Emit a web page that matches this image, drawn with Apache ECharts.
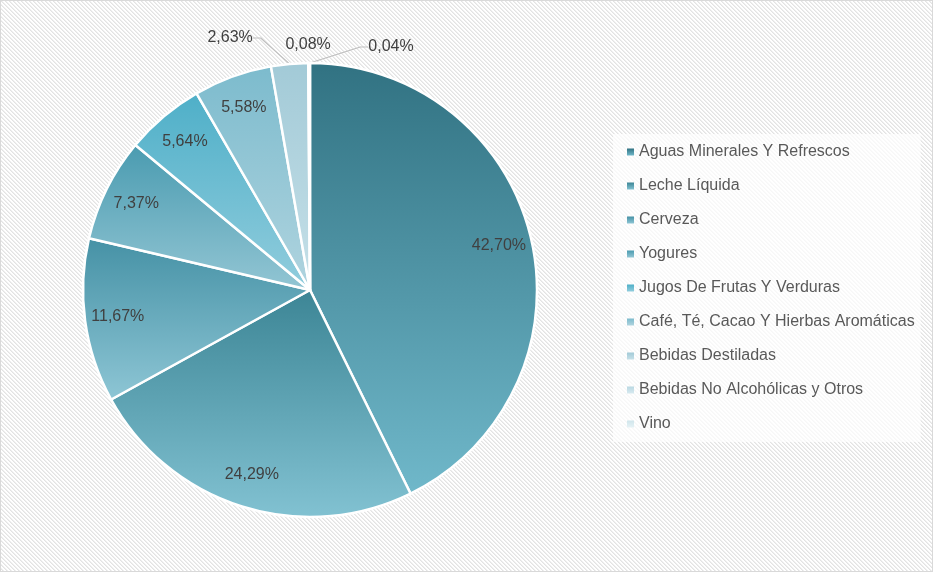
<!DOCTYPE html>
<html>
<head>
<meta charset="utf-8">
<script src="https://cdn.jsdelivr.net/npm/echarts@6/dist/echarts.min.js"></script>
<style>
html,body{margin:0;padding:0;background:#fff;}
#wrap{position:absolute;left:0;top:0;width:931px;height:570px;border:1px solid #d9d9d9;}
#chart{width:931px;height:570px;}
</style>
</head>
<body>
<div id="wrap"><div id="chart"></div></div>
<script>
const categories = ["Aguas Minerales Y Refrescos","Leche Líquida","Cerveza","Yogures","Jugos De Frutas Y Verduras","Café, Té, Cacao Y Hierbas Aromáticas","Bebidas Destiladas","Bebidas No Alcohólicas y Otros","Vino"];
const values = [42.70, 24.29, 11.67, 7.37, 5.64, 5.58, 2.63, 0.08, 0.04];
const topColors = ["#317282","#3c8595","#4591a5","#4a9bb0","#4eafc8","#7cbbcd","#a2cad7","#b9d8e2","#cfe5eb"];
const bottomColors = ["#70b8ca","#82c2d2","#8ec6d5","#93c6d4","#92cddd","#b0d4df","#c6e0e8","#d8eaf0","#e6f2f5"];
// label offsets (style) for the small outside labels: [dx, dy] from default placement
const labelShift = {6:[-22,-6], 7:[35,2], 8:[117,4]};

// hatched background tile
(function(){
  const c = document.createElement('canvas'); c.width = 4; c.height = 4;
  const g = c.getContext('2d');
  g.fillStyle = '#ffffff'; g.fillRect(0,0,4,4);
  for (let y=0;y<4;y++) for (let x=0;x<4;x++){
    const k = ((x - y) % 4 + 4) % 4;
    if (k===0){ g.fillStyle='#e3e3e3'; g.fillRect(x,y,1,1); }
    else if (k===1){ g.fillStyle='#efefef'; g.fillRect(x,y,1,1); }
  }
  document.getElementById('wrap').style.background = 'url(' + c.toDataURL() + ') repeat';
})();

function grad(i){
  return new echarts.graphic.LinearGradient(0,0,0,1,[{offset:0,color:topColors[i]},{offset:1,color:bottomColors[i]}]);
}
const fmt = p => p.value.toFixed(2).replace('.', ',') + '%';
const font = 'Liberation Sans';

const sliceData = categories.map((c,i)=>({
  name:c, value:values[i],
  itemStyle:{color:grad(i)},
  label:{show:i>=6},
  labelLine:{show:i===6 || i===8}
}));
const labelData = categories.map((c,i)=>({
  name:c, value:values[i],
  label:{show:i<6}
}));

const chart = echarts.init(document.getElementById('chart'), null, {renderer:'canvas'});
chart.setOption({
  backgroundColor:'transparent',
  animation:false,
  legend:{
    orient:'vertical', left:612, top:133,
    padding:[8,6,8,14],
    backgroundColor:'rgba(255,255,255,0.7)',
    itemWidth:7, itemHeight:7, itemGap:14,
    icon:'rect',
    itemStyle:{borderWidth:0},
    data:categories,
    textStyle:{fontFamily:font, fontSize:16, color:'#595959', lineHeight:20}
  },
  series:[
    {
      type:'pie', center:[309,289], radius:227, startAngle:90, clockwise:true,
      avoidLabelOverlap:false,
      itemStyle:{borderColor:'#fff', borderWidth:2.5},
      label:{position:'outside', formatter:fmt, fontFamily:font, fontSize:16, color:'#404040'},
      labelLine:{length:20, length2:8, lineStyle:{color:'#bfbfbf', width:1.2}},
      labelLayout:function(p){
        const s = labelShift[p.dataIndex];
        if (!s) return {};
        return {
          x: p.labelRect.x + p.labelRect.width/2 + s[0],
          y: p.labelRect.y + p.labelRect.height/2 + s[1],
          align:'center', verticalAlign:'middle'
        };
      },
      emphasis:{disabled:true},
      data:sliceData
    },
    {
      type:'pie', center:[309,289], radius:[155,227], startAngle:90, clockwise:true,
      silent:true,
      itemStyle:{color:'rgba(0,0,0,0)', borderWidth:0},
      label:{position:'inside', formatter:fmt, fontFamily:font, fontSize:16, color:'#404040'},
      labelLine:{show:false},
      emphasis:{disabled:true},
      data:labelData
    }
  ]
});
</script>
</body>
</html>
